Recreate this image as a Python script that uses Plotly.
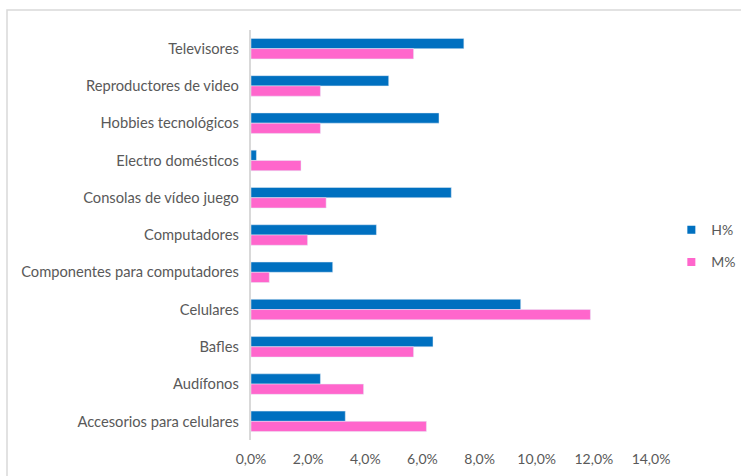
import plotly.graph_objects as go

categories = [
    "Televisores",
    "Reproductores de video",
    "Hobbies tecnológicos",
    "Electro domésticos",
    "Consolas de vídeo juego",
    "Computadores",
    "Componentes para computadores",
    "Celulares",
    "Bafles",
    "Audífonos",
    "Accesorios para celulares",
]
h_pct = [0.0745, 0.0482, 0.0658, 0.0019, 0.0701, 0.0439, 0.0286, 0.0944, 0.0637, 0.0243, 0.0330]
m_pct = [0.0569, 0.0243, 0.0243, 0.0175, 0.0263, 0.0198, 0.0064, 0.1188, 0.0569, 0.0394, 0.0614]
x_ticks = [0, 0.02, 0.04, 0.06, 0.08, 0.10, 0.12, 0.14]

series = [("H%", h_pct, "#0070C0"), ("M%", m_pct, "#FF66CC")]

FONT = "Lato, 'Liberation Sans', sans-serif"
TEXT = "#595959"

fig = go.Figure()
for name, vals, color in series:
    fig.add_trace(go.Bar(
        y=categories, x=vals, name=name, orientation="h",
        marker=dict(color=color), showlegend=False,
    ))
# Small square legend keys
for name, vals, color in series:
    fig.add_trace(go.Scatter(
        x=[None], y=[None], mode="markers", name=name,
        marker=dict(symbol="square", size=8, color=color),
        legendgroup=name, showlegend=True,
    ))

# Light frame around the whole chart area
fig.add_shape(
    type="rect", xref="paper", yref="paper",
    x0=-0.61, x1=1.3, y0=-0.2, y1=1.0488,
    line=dict(color="#d9d9d9", width=1.5), fillcolor="rgba(0,0,0,0)",
    layer="below",
)

fig.update_layout(
    width=741, height=476,
    margin=dict(l=251, r=90, t=30, b=36, autoexpand=False),
    paper_bgcolor="white", plot_bgcolor="white",
    barmode="group", bargap=0.45, bargroupgap=0,
    separators=",.",
    font=dict(family=FONT, size=13, color=TEXT),
    showlegend=True,
    legend=dict(
        xref="container", yref="container",
        x=0.906, xanchor="left", y=0.483, yanchor="middle",
        traceorder="grouped", tracegroupgap=11,
        font=dict(family=FONT, size=14, color=TEXT),
        itemwidth=30, bgcolor="rgba(0,0,0,0)",
    ),
    xaxis=dict(
        range=[0, 0.14], tickvals=x_ticks, tickformat=".1%",
        showgrid=False, zeroline=False, showline=False, automargin=False,
        ticks="outside", ticklen=6, tickcolor="rgba(0,0,0,0)",
        tickfont=dict(family=FONT, size=14, color=TEXT),
    ),
    yaxis=dict(
        categoryorder="array", categoryarray=categories,
        autorange="reversed", automargin=False,
        showgrid=False, zeroline=False,
        showline=True, linecolor="#d9d9d9", linewidth=1.5,
        ticks="", ticksuffix="  ",
        tickfont=dict(family=FONT, size=14.7, color=TEXT),
    ),
)

fig.write_html("out.html")
